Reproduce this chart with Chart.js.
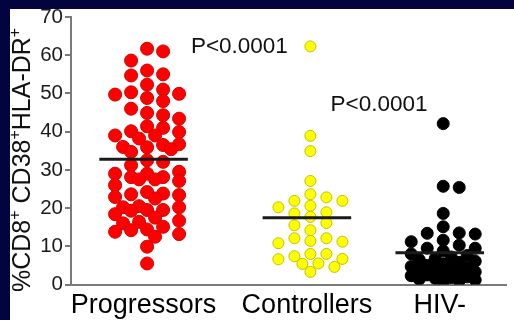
<!DOCTYPE html>
<html>
<head>
<meta charset="utf-8">
<script src="https://cdn.jsdelivr.net/npm/chart.js@4.4.1/dist/chart.umd.min.js"></script>
<style>
  html, body { margin: 0; padding: 0; background: #ffffff; overflow: hidden; }
  #wrap { position: fixed; left: 0; top: 0; width: 514px; height: 320px; }
  canvas { display: block; }
</style>
</head>
<body>
<div id="wrap"><canvas id="c" width="514" height="320"></canvas></div>
<script>
// Column labels
const categories = ['Progressors', 'Controllers', 'HIV-'];

// % of CD8+ T cells that are CD38+ HLA-DR+, one value per subject
const progressors = [61.7, 61.0, 58.6, 56.0, 55.0, 54.7, 52.3, 51.0, 50.3, 49.9, 49.7, 48.8, 48.0,
  46.0, 44.9, 44.3, 43.4, 41.4, 41.0, 40.1, 39.9, 39.0, 39.0, 38.2, 36.7, 36.5, 36.0, 35.9, 35.4,
  34.7, 32.5, 32.1, 31.2, 29.5, 29.0, 29.0, 28.1, 28.1, 27.5, 27.5, 27.1, 26.0, 24.2, 23.8, 23.6,
  23.4, 22.9, 22.5, 20.5, 20.2, 20.2, 19.5, 19.5, 19.3, 18.4, 17.5, 16.7, 16.4, 16.0, 15.1, 14.4,
  14.2, 13.8, 13.2, 12.5, 9.9, 5.5];
const controllers = [62.3, 38.9, 34.9, 27.1, 23.6, 22.8, 21.9, 21.9, 20.6, 20.2, 18.9, 18.6, 17.7,
  16.1, 15.5, 14.2, 12.1, 12.1, 11.4, 11.2, 10.8, 8.0, 8.0, 7.4, 6.7, 6.6, 5.5, 5.4, 4.6, 3.3];
const hivNegative = [42.1, 25.7, 25.4, 18.6, 15.1, 13.5, 13.4, 13.2, 11.6, 11.2, 10.3, 9.5, 9.5,
  8.8, 8.0, 7.6, 7.2, 6.8, 6.5, 6.1, 5.8, 5.4, 5.0, 4.7, 4.4, 4.1, 3.8, 3.5, 3.3, 3.0, 2.8, 2.5,
  2.3, 2.0, 1.8, 1.6, 1.4, 1.2, 1.0, 0.8];
const medians = [32.8, 17.5, 8.3];

// Y axis ticks
const yTicks = [0, 10, 20, 30, 40, 50, 60, 70];

// Significance notes
const pTexts = ['P<0.0001', 'P<0.0001'];

const groups = [progressors, controllers, hivNegative];

// ---- presentation ----
const FONT = '"Liberation Sans", Arial, Helvetica, sans-serif';
const groupPositions = [0.5, 1.625, 2.54];
const medianHalfWidth = 0.305;
const dotFill = ['#ff0000', '#ffff00', '#000000'];
const dotEdge = ['#d80000', '#c2c200', '#000000'];
const dotRadius = [6.5, 5.5, 6];
const notePlaces = [{ x: 0.826, y: 60.7 }, { x: 1.788, y: 45.3 }];

const frame = {
  id: 'frame',
  beforeDraw(chart) {
    const ctx = chart.ctx;
    ctx.save();
    ctx.fillStyle = '#ffffff';
    ctx.fillRect(0, 0, 514, 320);
    ctx.fillStyle = '#03033f';
    ctx.fillRect(0, 0, 514, 9);
    ctx.fillRect(0, 0, 10, 320);
    ctx.restore();
  }
};

// Rotated y title with superscript plus signs
const yTitle = {
  id: 'yTitle',
  afterDraw(chart) {
    const ctx = chart.ctx;
    const parts = [['%CD8', false], ['+', true], [' CD38', false], ['+', true], ['HLA-DR', false], ['+', true]];
    ctx.save();
    ctx.translate(29.5, 292);
    ctx.rotate(-Math.PI / 2);
    ctx.fillStyle = '#111';
    ctx.textBaseline = 'alphabetic';
    ctx.textAlign = 'left';
    let x = 0;
    for (const [t, sup] of parts) {
      ctx.font = (sup ? '16px ' : '25px ') + FONT;
      ctx.fillText(t, x, sup ? -10 : 0);
      x += ctx.measureText(t).width;
    }
    ctx.restore();
  }
};

const notes = {
  id: 'notes',
  afterDatasetsDraw(chart) {
    const ctx = chart.ctx, xs = chart.scales.x, ys = chart.scales.y;
    ctx.save();
    ctx.font = '22.5px ' + FONT;
    ctx.fillStyle = '#111';
    ctx.textBaseline = 'alphabetic';
    ctx.textAlign = 'left';
    pTexts.forEach((t, i) => {
      ctx.fillText(t, xs.getPixelForValue(notePlaces[i].x), ys.getPixelForValue(notePlaces[i].y));
    });
    ctx.restore();
  }
};

const datasets = groups.map((vals, gi) => ({
  type: 'scatter',
  data: vals.map(v => ({ x: groupPositions[gi], y: v })),
  backgroundColor: dotFill[gi],
  borderColor: dotEdge[gi],
  borderWidth: 1,
  pointRadius: dotRadius[gi],
  pointHoverRadius: dotRadius[gi],
  order: 1
})).concat(medians.map((m, gi) => ({
  type: 'line',
  data: [{ x: groupPositions[gi] - medianHalfWidth, y: m }, { x: groupPositions[gi] + medianHalfWidth, y: m }],
  borderColor: '#1a1a1a',
  borderWidth: 3,
  pointRadius: 0,
  fill: false,
  order: 0
})));

const chart = new Chart(document.getElementById('c'), {
  type: 'scatter',
  data: { datasets },
  plugins: [frame, yTitle, notes],
  options: {
    responsive: false,
    animation: false,
    devicePixelRatio: 1,
    layout: { padding: { top: 17, left: 0, right: 0, bottom: 0 } },
    plugins: { legend: { display: false }, tooltip: { enabled: false } },
    scales: {
      x: {
        type: 'linear',
        min: 0,
        max: 3,
        afterBuildTicks: s => { s.ticks = groupPositions.map(v => ({ value: v })); },
        afterFit: s => { s.height = 35.5; },
        ticks: {
          autoSkip: false,
          maxRotation: 0,
          padding: 5,
          color: '#000',
          font: { family: FONT, size: 27 },
          callback: (v, i) => categories[i]
        },
        grid: { display: true, drawOnChartArea: false, drawTicks: false },
        border: { display: true, color: '#7a7a7a', width: 2 }
      },
      y: {
        min: 0,
        max: 70,
        afterBuildTicks: s => { s.ticks = yTicks.map(v => ({ value: v })); },
        afterFit: s => { s.width = 71; },
        ticks: {
          padding: 2,
          color: '#1a1a1a',
          font: { family: FONT, size: 20.5 }
        },
        grid: { display: true, drawOnChartArea: false, drawTicks: true, tickLength: 6, color: '#7a7a7a', lineWidth: 2 },
        border: { display: true, color: '#7a7a7a', width: 2 }
      }
    }
  }
});

// Spread each column's dots sideways so they sit next to each other
function spreadDots(chart) {
  const xs = chart.scales.x, ys = chart.scales.y;
  const slots = [0, 16, -16, 32, -32, 8, -8, 24, -24];
  groups.forEach((vals, gi) => {
    const cx = xs.getPixelForValue(groupPositions[gi]) + 3.5;
    const dia = dotRadius[gi] * 2;
    const placed = [];
    const pts = new Array(vals.length);
    const idx = vals.map((_, i) => i).sort((a, b) => vals[b] - vals[a]);
    idx.forEach(i => {
      const py = ys.getPixelForValue(vals[i]);
      let best = cx, bestGap = -Infinity;
      for (const s of slots) {
        const px = cx + s;
        let gap = Infinity;
        for (const p of placed) gap = Math.min(gap, Math.hypot(p.x - px, p.y - py));
        if (gap >= dia * 0.92) { best = px; break; }
        if (gap > bestGap) { bestGap = gap; best = px; }
      }
      placed.push({ x: best, y: py });
      pts[i] = { x: xs.getValueForPixel(best), y: vals[i] };
    });
    chart.data.datasets[gi].data = pts;
  });
  chart.update('none');
}
spreadDots(chart);
</script>
</body>
</html>
